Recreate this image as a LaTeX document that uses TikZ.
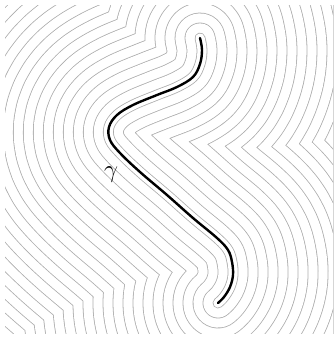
\documentclass[tikz,border=0pt]{standalone}
\begin{document}
\begin{tikzpicture}[x=1pt,y=-1pt,
  levelring/.style={draw=black!32,line cap=round,line join=round},
  levelgap/.style={draw=white,line cap=round,line join=round},
  curvestyle/.style={draw=black,line width=2.4pt,line cap=round,line join=round}]
\useasboundingbox[fill=white] (0,0) rectangle (336,341);
\def\gammapath{plot[smooth,tension=0.6] coordinates {(200,38) (202,50) (200,64) (193,77) (177,87) (157,95) (133,105) (117,115) (109,127) (110,140) (120,153) (140,172) (167,195) (193,218) (217,238) (228,250) (232,262) (233,275) (230,287) (224,297) (218,303)}}
\begin{scope}
\clip (5,5) rectangle (333,333);
\foreach \i in {40,...,1}{
  \pgfmathsetmacro{\rr}{2*(5+10*(\i-1))}
  \pgfmathsetmacro{\wa}{\rr+0.8}
  \pgfmathsetmacro{\wb}{\rr-0.8}
  \draw[levelring,line width=\wa pt] \gammapath;
  \draw[levelgap,line width=\wb pt] \gammapath;
}
\end{scope}
\draw[curvestyle] \gammapath;
\node (g) at (111,175) {\fontsize{23}{27}\selectfont$\gamma$};
\end{tikzpicture}
\end{document}
